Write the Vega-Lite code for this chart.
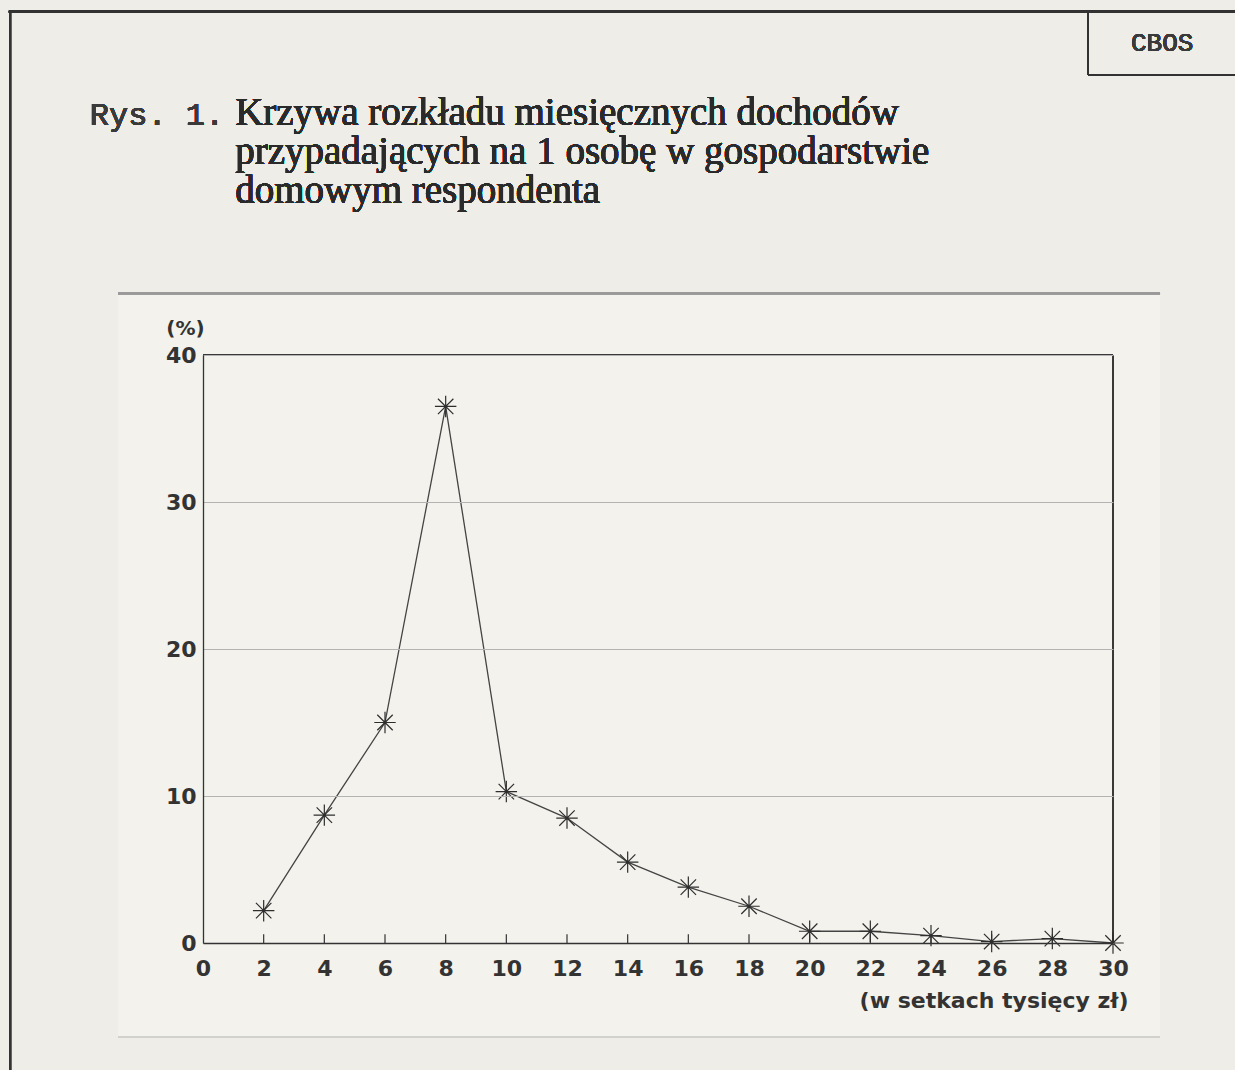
{
  "$schema": "https://vega.github.io/schema/vega-lite/v6.json",
  "width": 910,
  "height": 588,
  "autosize": {"type": "none"},
  "padding": {"left": 203, "top": 355, "right": 122, "bottom": 127},
  "background": "#eeede7",
  "config": {
    "view": {"stroke": null},
    "axis": {"labelFont": "DejaVu Sans", "labelFontWeight": "bold", "labelFontSize": 22, "labelColor": "#333333", "domainColor": "#333333", "domainWidth": 1.3, "titleFont": "DejaVu Sans", "titleFontWeight": "bold", "titleFontSize": 20, "titleColor": "#333333"}
  },
  "data": {"values": [
    {"dochod": 2, "procent": 2.2},
    {"dochod": 4, "procent": 8.7},
    {"dochod": 6, "procent": 15.0},
    {"dochod": 8, "procent": 36.5},
    {"dochod": 10, "procent": 10.3},
    {"dochod": 12, "procent": 8.5},
    {"dochod": 14, "procent": 5.5},
    {"dochod": 16, "procent": 3.8},
    {"dochod": 18, "procent": 2.5},
    {"dochod": 20, "procent": 0.8},
    {"dochod": 22, "procent": 0.8},
    {"dochod": 24, "procent": 0.5},
    {"dochod": 26, "procent": 0.1},
    {"dochod": 28, "procent": 0.3},
    {"dochod": 30, "procent": 0.0}
  ]},
  "encoding": {
    "x": {
      "field": "dochod", "type": "quantitative",
      "scale": {"domain": [0, 30], "nice": false, "zero": false},
      "axis": {
        "zindex": 2,
        "values": [0, 2, 4, 6, 8, 10, 12, 14, 16, 18, 20, 22, 24, 26, 28, 30],
        "grid": false, "ticks": false,
        "labelPadding": 15, "labelFlush": false,
        "title": "(w setkach tysięcy zł)", "titleFontSize": 22,
        "titleAnchor": "end", "titleAlign": "right", "titleBaseline": "middle",
        "titleX": 925, "titleY": 57
      }
    },
    "y": {
      "field": "procent", "type": "quantitative",
      "scale": {"domain": [0, 40], "nice": false},
      "axis": {
        "zindex": 2,
        "values": [0, 10, 20, 30, 40],
        "grid": true, "gridColor": "#b3b3b3", "gridWidth": 1,
        "ticks": false, "labelPadding": 7,
        "title": "(%)", "titleAngle": 0, "titleAlign": "center", "titleBaseline": "middle",
        "titleX": -18, "titleY": -27
      }
    }
  },
  "layer": [
    {
      "mark": {"type": "rect", "clip": false, "fill": "#f3f2ed"},
      "encoding": {
        "x": {"datum": -2.8}, "x2": {"datum": 31.55},
        "y": {"datum": 44.2}, "y2": {"datum": -6.4}
      }
    },
    {
      "mark": {"type": "rule", "clip": false, "color": "#9a9a9a", "strokeWidth": 2},
      "encoding": {"x": {"datum": -2.8}, "x2": {"datum": 31.55}, "y": {"datum": 44.2}}
    },
    {
      "mark": {"type": "rule", "clip": false, "color": "#d0d0cc", "strokeWidth": 1.5},
      "encoding": {"x": {"datum": -2.8}, "x2": {"datum": 31.55}, "y": {"datum": -6.4}}
    },
    {
      "mark": {"type": "rule", "clip": false, "color": "#3a3a3a", "strokeWidth": 1.3},
      "encoding": {"x": {"datum": 0}, "x2": {"datum": 30}, "y": {"datum": 40}}
    },
    {
      "mark": {"type": "rule", "clip": false, "color": "#3a3a3a", "strokeWidth": 1.3},
      "encoding": {"x": {"datum": 30}, "y": {"datum": 40}, "y2": {"datum": 0}}
    },
    {
      "mark": {"type": "rule", "clip": false, "color": "#333333", "strokeWidth": 2},
      "encoding": {"x": {"datum": -6.4}, "x2": {"datum": 34.2}, "y": {"datum": 63.35}}
    },
    {
      "mark": {"type": "rule", "clip": false, "color": "#333333", "strokeWidth": 2},
      "encoding": {"x": {"datum": -6.36}, "y": {"datum": 63.35}, "y2": {"datum": -8.8}}
    },
    {
      "mark": {"type": "rule", "clip": false, "color": "#333333", "strokeWidth": 1.6},
      "encoding": {"x": {"datum": 29.18}, "y": {"datum": 63.35}, "y2": {"datum": 59.05}}
    },
    {
      "mark": {"type": "rule", "clip": false, "color": "#333333", "strokeWidth": 1.6},
      "encoding": {"x": {"datum": 29.18}, "x2": {"datum": 34.2}, "y": {"datum": 59.05}}
    },
    {
      "mark": {"type": "text", "clip": false, "text": "CBOS", "font": "Liberation Mono", "fontSize": 26, "color": "#3a3a3a", "align": "center", "baseline": "middle"},
      "encoding": {"x": {"datum": 31.62}, "y": {"datum": 61.2}}
    },
    {
      "mark": {"type": "text", "clip": false, "text": "Rys. 1.", "font": "Liberation Mono", "fontSize": 32, "color": "#3a3a3a", "align": "left", "baseline": "alphabetic"},
      "encoding": {"x": {"datum": -3.73}, "y": {"datum": 55.65}}
    },
    {
      "mark": {"type": "text", "clip": false, "text": "Krzywa rozkładu miesięcznych dochodów\nprzypadających na 1 osobę w gospodarstwie\ndomowym respondenta", "lineBreak": "\n", "lineHeight": 39, "font": "Liberation Serif", "fontSize": 39, "color": "#2a2a2a", "align": "left", "baseline": "alphabetic"},
      "encoding": {"x": {"datum": 1.06}, "y": {"datum": 55.65}}
    },
    {
      "mark": {"type": "rule", "color": "#333333", "strokeWidth": 1.2},
      "encoding": {"y": {"datum": 0}, "y2": {"datum": 0.6}}
    },
    {
      "mark": {"type": "line", "color": "#444444", "strokeWidth": 1.3},
      "encoding": {}
    },
    {
      "mark": {"type": "point", "shape": "M0,-1L0,1M-1,0L1,0M-0.72,-0.72L0.72,0.72M-0.72,0.72L0.72,-0.72", "filled": false, "stroke": "#2e2e2e", "strokeWidth": 1.2, "size": 460, "opacity": 1},
      "encoding": {}
    }
  ]
}
